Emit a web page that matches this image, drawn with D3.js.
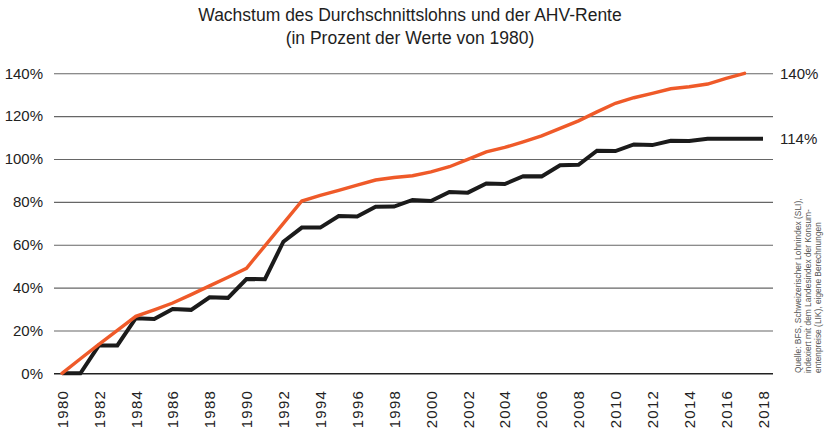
<!DOCTYPE html>
<html>
<head>
<meta charset="utf-8">
<script src="https://cdn.jsdelivr.net/npm/d3@7"></script>
<style>
  body { margin: 0; background: #fff; }
  text { font-family: "Liberation Sans", Arial, sans-serif; fill: #222; }
</style>
</head>
<body>
<script>
// Werte in Prozent von 1980
var years = d3.range(1980, 2019);
var lohn = [0, 6.8, 13.5, 20, 26.6, 29.6, 32.8, 36.7, 40.8, 44.8,
            49, 59.5, 70, 80.4, 83, 85.4, 87.8, 90.2, 91.4, 92.2,
            94, 96.4, 99.8, 103.3, 105.4, 108, 110.8, 114.3, 117.8, 122,
            126, 128.6, 130.6, 132.8, 133.7, 135, 137.6, 140];
var rente = [0, 0, 13, 13, 25.7, 25.3, 30, 29.6, 35.5, 35.2,
             44, 43.9, 61.4, 68, 68, 73.4, 73.2, 77.7, 77.8, 80.9,
             80.4, 84.6, 84.3, 88.6, 88.3, 92, 91.9, 97.1, 97.3, 103.9,
             103.7, 106.8, 106.5, 108.5, 108.4, 109.5, 109.5, 109.5, 109.5];
var yTicks = [0, 20, 40, 60, 80, 100, 120, 140];
var xTicks = d3.range(1980, 2019, 2);
var endLabels = ["140%", "114%"];
var titleLines = ["Wachstum des Durchschnittslohns und der AHV-Rente", "(in Prozent der Werte von 1980)"];
var sourceLines = ["Quelle: BFS, Schweizerischer Lohnindex (SLI),",
                   "indexiert mit dem Landesindex der Konsum-",
                   "entenpreise (LIK), eigene Berechnungen"];

var width = 833, height = 432;
var gridLeft = 54, gridRight = 773;

var svg = d3.select("body").append("svg")
    .attr("width", width)
    .attr("height", height);

var x = d3.scaleLinear().domain([1980, 2018]).range([62, 763]);
var y = d3.scaleLinear().domain([0, 140]).range([373.3, 73.3]);

// Titel
svg.selectAll(".title").data(titleLines).enter().append("text")
    .attr("class", "title")
    .attr("x", 410)
    .attr("y", function (d, i) { return 21 + i * 23; })
    .attr("text-anchor", "middle")
    .style("font-size", "17.5px")
    .style("fill", "#1e1e1e")
    .text(function (d) { return d; });

// Gitterlinien + y-Beschriftung
var yAxis = svg.append("g")
    .attr("transform", "translate(" + gridLeft + ",0)")
    .call(d3.axisLeft(y).tickValues(yTicks)
        .tickSize(-(gridRight - gridLeft))
        .tickPadding(11)
        .tickFormat(function (d) { return d + "%"; }));
yAxis.select(".domain").remove();
yAxis.selectAll(".tick line")
    .attr("stroke", function (d) { return d == 0 ? "#222" : "#666"; })
    .attr("stroke-width", function (d) { return d == 0 ? 1.4 : 1.1; });
yAxis.selectAll(".tick text")
    .style("font-size", "15px")
    .style("font-family", "Liberation Sans, Arial, sans-serif")
    .attr("fill", "#222");

// x-Achse (Jahre, senkrecht)
var xAxis = svg.append("g")
    .attr("transform", "translate(0,390)")
    .call(d3.axisBottom(x).tickValues(xTicks).tickSize(0).tickFormat(d3.format("d")));
xAxis.select(".domain").remove();
xAxis.selectAll(".tick text")
    .attr("transform", "rotate(-90)")
    .attr("text-anchor", "end")
    .attr("x", 0)
    .attr("y", 0)
    .attr("dy", "0.35em")
    .style("font-size", "15px")
    .style("letter-spacing", "1.2px")
    .style("font-family", "Liberation Sans, Arial, sans-serif")
    .attr("fill", "#222");

// Linien
var line = d3.line()
    .x(function (d, i) { return x(years[i]); })
    .y(function (d) { return y(d); });

svg.append("path")
    .attr("d", line(rente))
    .attr("fill", "none")
    .attr("stroke", "#1b1b1b")
    .attr("stroke-width", 4);

svg.append("path")
    .attr("d", line(lohn))
    .attr("fill", "none")
    .attr("stroke", "#ef5a29")
    .attr("stroke-width", 3.4)
    .attr("stroke-linecap", "round");

// Endwerte
var endVals = [lohn[lohn.length - 1], rente[rente.length - 1]];
svg.selectAll(".endlabel").data(endLabels).enter().append("text")
    .attr("class", "endlabel")
    .attr("x", 780)
    .attr("y", function (d, i) { return y(endVals[i]); })
    .attr("dy", "0.35em")
    .style("font-size", "15px")
    .text(function (d) { return d; });

// Quelle
var src = svg.append("g").attr("transform", "translate(801,373) rotate(-90)");
src.selectAll("text").data(sourceLines).enter().append("text")
    .attr("x", 0)
    .attr("y", function (d, i) { return i * 10; })
    .style("font-size", "8.4px")
    .style("fill", "#555")
    .text(function (d) { return d; });
</script>
</body>
</html>
